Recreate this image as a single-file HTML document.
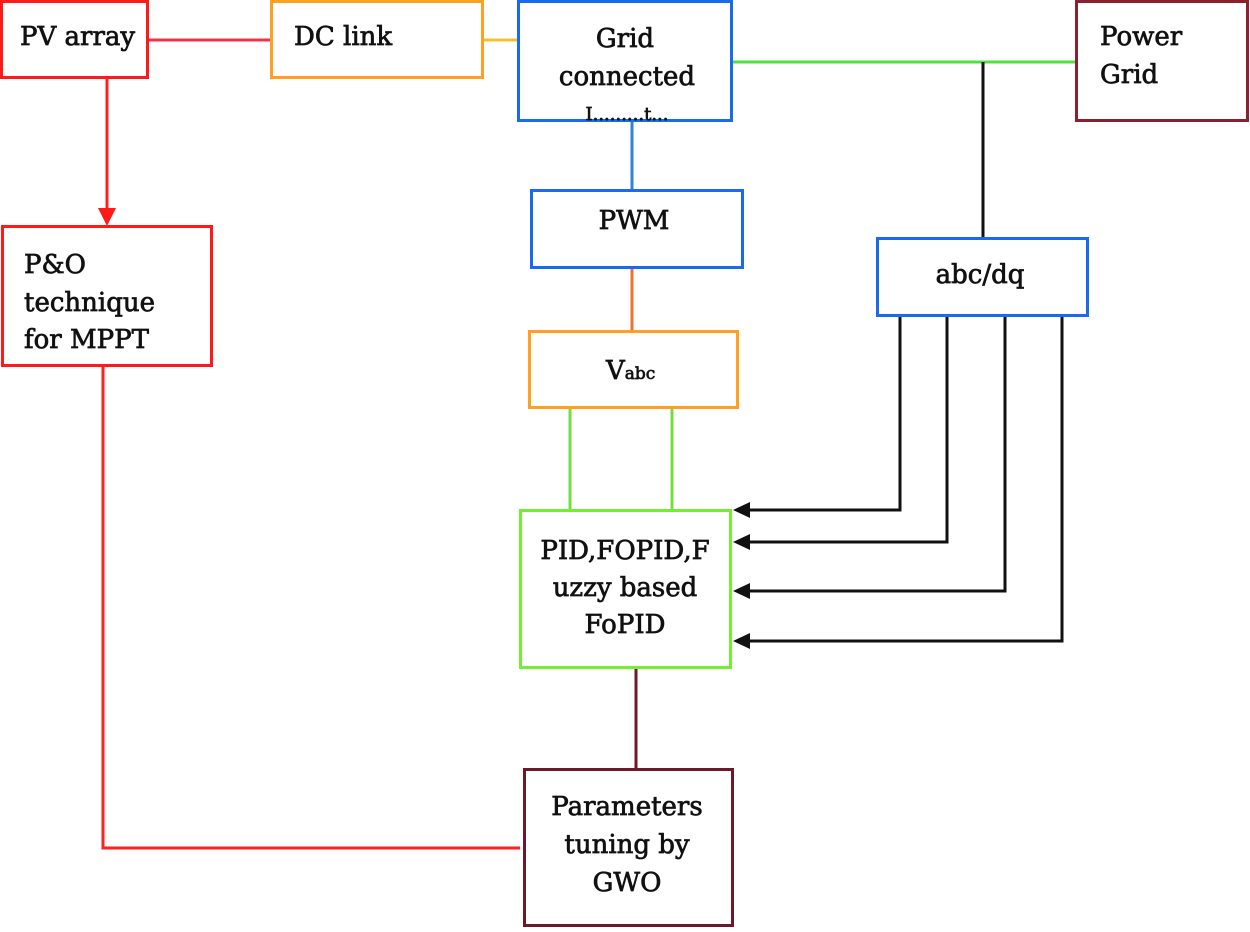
<!DOCTYPE html>
<html><head><meta charset="utf-8"><style>
html,body{margin:0;padding:0;background:#fff;}
svg{display:block;}
text{font-family:"DejaVu Serif","Liberation Serif",serif;font-size:26px;fill:#111;stroke:#111;stroke-width:0.7px;}
</style></head><body>
<svg width="1250" height="932" viewBox="0 0 1250 932" xmlns="http://www.w3.org/2000/svg">
<g fill="none" stroke-width="3">
<line x1="147" y1="40" x2="271" y2="40" stroke="#f0304a"/>
<line x1="483" y1="40" x2="518" y2="40" stroke="#f5c030"/>
<line x1="732" y1="62" x2="1076" y2="62" stroke="#50e040"/>
<line x1="983" y1="62" x2="983" y2="238" stroke="#111"/>
<line x1="107" y1="78" x2="107" y2="212" stroke="#ff2020"/>
<line x1="632" y1="121" x2="632" y2="190" stroke="#3080e0"/>
<line x1="632" y1="268" x2="632" y2="331" stroke="#f07030"/>
<line x1="570" y1="408" x2="570" y2="510" stroke="#70e040"/>
<line x1="672" y1="408" x2="672" y2="510" stroke="#70e040"/>
<line x1="636" y1="668" x2="636" y2="769" stroke="#6a1a28"/>
<polyline points="103,366 103,848 520,848" stroke="#ff2020"/>
<polyline points="900,316 900,510 745,510" stroke="#111"/>
<polyline points="947,316 947,542 745,542" stroke="#111"/>
<polyline points="1005,316 1005,591 745,591" stroke="#111"/>
<polyline points="1062,316 1062,641 745,641" stroke="#111"/>
<rect x="1.5" y="1.5" width="146" height="76" stroke="#ff1a1a"/>
<rect x="271.5" y="1.5" width="211" height="76" stroke="#ffa020"/>
<rect x="518.5" y="1.5" width="213" height="119" stroke="#1a6af0"/>
<rect x="1076.5" y="1.5" width="171" height="119" stroke="#8a2030"/>
<rect x="2.5" y="226.5" width="209" height="139" stroke="#ff1a1a"/>
<rect x="531.5" y="190.5" width="211" height="77" stroke="#1a6af0"/>
<rect x="877.5" y="238.5" width="210" height="77" stroke="#1a6af0"/>
<rect x="529.5" y="331.5" width="208" height="76" stroke="#ffa020"/>
<rect x="520.5" y="510.5" width="210" height="157" stroke="#70f030"/>
<rect x="524.5" y="769.5" width="208" height="156" stroke="#6a1a28"/>
</g>
<polygon points="98,208 116,208 107,226" fill="#ff1a1a"/>
<polygon points="733,510 750,502 750,518" fill="#111"/>
<polygon points="733,542 750,534 750,550" fill="#111"/>
<polygon points="733,591 750,583 750,599" fill="#111"/>
<polygon points="733,641 750,633 750,649" fill="#111"/>
<text x="20" y="45">PV array</text>
<text x="294" y="45">DC link</text>
<text x="625" y="47" text-anchor="middle">Grid</text>
<text x="627" y="85" text-anchor="middle">connected</text>
<text x="627" y="120" text-anchor="middle" style="font-size:18px">I.........t...</text>
<text x="1100" y="45">Power</text>
<text x="1100" y="83">Grid</text>
<text x="24" y="273">P&amp;O</text>
<text x="24" y="311">technique</text>
<text x="24" y="348">for MPPT</text>
<text x="634" y="229" text-anchor="middle">PWM</text>
<text x="980" y="283" text-anchor="middle">abc/dq</text>
<text x="606" y="379">V<tspan style="font-size:17px">abc</tspan></text>
<text x="625" y="559" text-anchor="middle">PID,FOPID,F</text>
<text x="625" y="596" text-anchor="middle">uzzy based</text>
<text x="625" y="633" text-anchor="middle">FoPID</text>
<text x="627" y="815" text-anchor="middle">Parameters</text>
<text x="627" y="853" text-anchor="middle">tuning by</text>
<text x="627" y="891" text-anchor="middle">GWO</text>
</svg>
</body></html>
